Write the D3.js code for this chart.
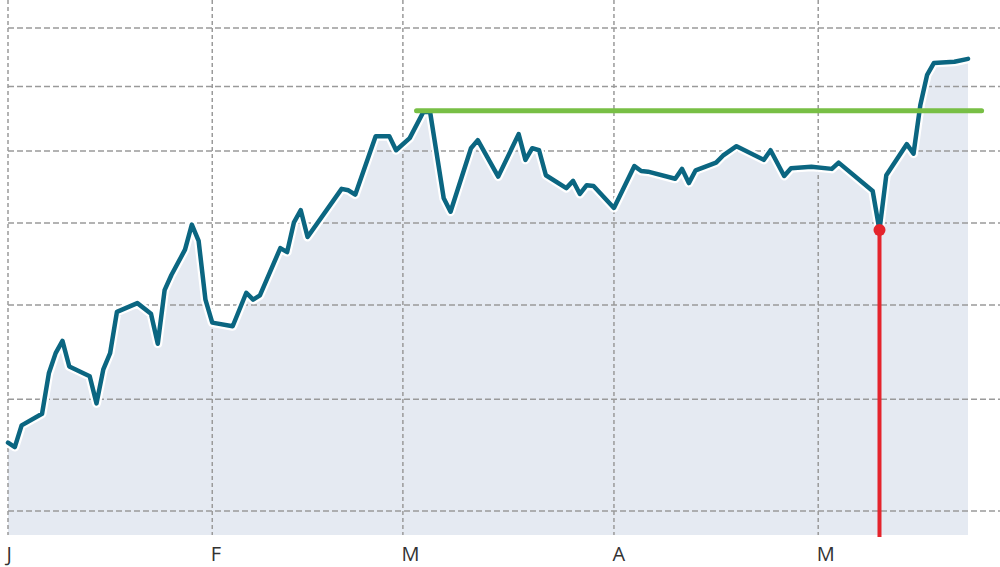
<!DOCTYPE html>
<html>
<head>
<meta charset="utf-8">
<script src="https://cdn.jsdelivr.net/npm/d3@7"></script>
<style>
  body { margin: 0; background: #fff; }
  svg { display: block; }
  .tick text { font-family: "Open Sans", sans-serif; }
</style>
</head>
<body>
<svg id="chart" width="1000" height="567"></svg>
<script>
// price series (log scale)
var dates = [
  "2023-01-02","2023-01-03","2023-01-04","2023-01-07","2023-01-08","2023-01-09","2023-01-10","2023-01-11",
  "2023-01-14","2023-01-15","2023-01-16","2023-01-17","2023-01-18","2023-01-21","2023-01-23","2023-01-24",
  "2023-01-25","2023-01-26","2023-01-28","2023-01-29","2023-01-30","2023-01-31","2023-02-01","2023-02-04",
  "2023-02-06","2023-02-07","2023-02-08","2023-02-11","2023-02-12","2023-02-13","2023-02-14","2023-02-15",
  "2023-02-20","2023-02-21","2023-02-22","2023-02-25","2023-02-27","2023-02-28","2023-03-02","2023-03-04",
  "2023-03-05","2023-03-07","2023-03-08","2023-03-11","2023-03-12","2023-03-15","2023-03-18","2023-03-19",
  "2023-03-20","2023-03-21","2023-03-22","2023-03-25","2023-03-26","2023-03-27","2023-03-28","2023-03-29",
  "2023-04-01","2023-04-04","2023-04-05","2023-04-06","2023-04-10","2023-04-11","2023-04-12","2023-04-13",
  "2023-04-16","2023-04-17","2023-04-19","2023-04-23","2023-04-24","2023-04-26","2023-04-27","2023-04-30",
  "2023-05-03","2023-05-04","2023-05-09","2023-05-10","2023-05-11","2023-05-14","2023-05-15","2023-05-16",
  "2023-05-17","2023-05-18","2023-05-21","2023-05-23"
];
var prices = [
  55.9, 55.5, 57.5, 58.6, 62.6, 64.7, 66.0, 63.3,
  62.3, 59.6, 63.0, 64.7, 69.2, 70.2, 69.0, 65.7,
  71.7, 73.5, 76.6, 79.8, 77.7, 70.6, 68.0, 67.6,
  71.4, 70.6, 71.1, 76.8, 76.3, 80.1, 81.7, 78.2,
  84.6, 84.4, 83.8, 92.2, 92.2, 90.1, 91.9, 95.9,
  95.9, 83.3, 81.5, 90.4, 91.6, 86.3, 92.5, 88.7,
  90.4, 90.1, 86.5, 84.7, 85.7, 83.9, 85.1, 85.0,
  82.0, 87.8, 87.1, 87.0, 86.0, 87.4, 85.4, 87.2,
  88.3, 89.3, 90.7, 88.7, 90.1, 86.4, 87.5, 87.7,
  87.4, 88.3, 84.3, 79.1, 86.5, 91.0, 89.6, 97.0,
  101.9, 103.9, 104.1, 104.6
];
var gridValues = [50, 60, 70, 80, 90, 100, 110];
var tickDates = ["2023-01-02", "2023-02-01", "2023-03-01", "2023-04-01", "2023-05-01"];
var tickLabels = ["J", "F", "M", "A", "M"];
var resistance = { from: "2023-03-03", to: "2023-05-25", level: 96.1 };
var markerDate = "2023-05-10";

var parse = d3.timeParse("%Y-%m-%d");
var data = dates.map(function (d, i) { return { date: parse(d), value: prices[i] }; });

var svg = d3.select("#chart"),
    width = +svg.attr("width"),
    height = +svg.attr("height"),
    left = 8, right = 968, top = 8, bottom = 535;

var x = d3.scaleTime()
    .domain(d3.extent(data, function (d) { return d.date; }))
    .range([left, right]);
var y = d3.scaleLog()
    .domain([50, 110])
    .range([511, 28]);

// area under the line
var area = d3.area()
    .x(function (d) { return x(d.date); })
    .y0(bottom)
    .y1(function (d) { return y(d.value); });
svg.append("path")
    .datum(data)
    .attr("fill", "#e5eaf2")
    .attr("d", area);

// grid
svg.append("g").selectAll("line")
    .data(gridValues)
    .join("line")
    .attr("x1", left).attr("x2", width)
    .attr("y1", function (d) { return y(d); })
    .attr("y2", function (d) { return y(d); })
    .attr("stroke", "#9a9a9a")
    .attr("stroke-width", 1.5)
    .attr("stroke-dasharray", "6,3");

svg.append("g").selectAll("line")
    .data(tickDates.map(parse))
    .join("line")
    .attr("x1", function (d) { return x(d); })
    .attr("x2", function (d) { return x(d); })
    .attr("y1", top).attr("y2", bottom)
    .attr("stroke", "#9a9a9a")
    .attr("stroke-width", 1.5)
    .attr("stroke-dasharray", "4,3");

// month labels
var xAxis = d3.axisBottom(x)
    .tickValues(tickDates.map(parse))
    .tickSize(0)
    .tickFormat(function (d, i) { return tickLabels[i]; });
var gx = svg.append("g")
    .attr("transform", "translate(0," + (bottom + 9) + ")")
    .call(xAxis);
gx.select(".domain").remove();
gx.selectAll("text")
    .attr("text-anchor", "start")
    .attr("dx", "-2")
    .attr("font-size", 20)
    .attr("fill", "#333");

// price line with white halo
var line = d3.line()
    .x(function (d) { return x(d.date); })
    .y(function (d) { return y(d.value); });
svg.append("path")
    .datum(data)
    .attr("fill", "none")
    .attr("stroke", "#fff")
    .attr("stroke-width", 9)
    .attr("stroke-linejoin", "round")
    .attr("d", line);
svg.append("path")
    .datum(data)
    .attr("fill", "none")
    .attr("stroke", "#0b6681")
    .attr("stroke-width", 4.5)
    .attr("stroke-linejoin", "round")
    .attr("stroke-linecap", "round")
    .attr("d", line);

// resistance level
svg.append("line")
    .attr("x1", x(parse(resistance.from)))
    .attr("x2", x(parse(resistance.to)))
    .attr("y1", y(resistance.level))
    .attr("y2", y(resistance.level))
    .attr("stroke", "#78bf45")
    .attr("stroke-width", 5)
    .attr("stroke-linecap", "round");

// marker at the low
var m = data.find(function (d) { return +d.date === +parse(markerDate); });
svg.append("line")
    .attr("x1", x(m.date)).attr("x2", x(m.date))
    .attr("y1", y(m.value)).attr("y2", bottom + 2)
    .attr("stroke", "#e4242c")
    .attr("stroke-width", 4);
svg.append("circle")
    .attr("cx", x(m.date))
    .attr("cy", y(m.value))
    .attr("r", 6)
    .attr("fill", "#e4242c");
</script>
</body>
</html>
